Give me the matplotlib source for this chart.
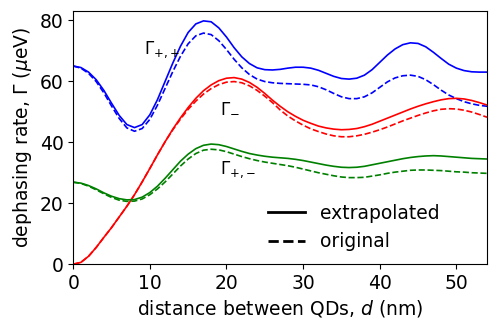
import numpy as np
import matplotlib
matplotlib.use("Agg")
import matplotlib.pyplot as plt

# distance between QDs (nm)
d = np.arange(0, 55)

# Gamma_{+,+}
gpp_ext = [65.0, 64.5, 63.0, 60.5, 57.0, 52.8, 48.8, 45.8, 44.8, 45.8,
           49.0, 54.0, 60.0, 66.0, 71.5, 76.0, 78.8, 79.8, 79.5, 77.5,
           74.5, 71.0, 68.0, 65.8, 64.4, 63.8, 63.7, 63.9, 64.3, 64.6,
           64.6, 64.3, 63.6, 62.6, 61.6, 60.9, 60.7, 61.0, 62.0, 63.8,
           66.2, 68.6, 70.6, 72.0, 72.6, 72.4, 71.3, 69.5, 67.5, 65.6,
           64.3, 63.5, 63.1, 63.0, 63.0]
gpp_orig = [65.0, 64.3, 62.6, 59.9, 56.2, 51.9, 47.8, 44.7, 43.6, 44.5,
            47.5, 52.2, 57.7, 63.2, 68.2, 72.3, 74.9, 75.8, 75.3, 73.3,
            70.4, 67.2, 64.4, 62.2, 60.7, 59.9, 59.5, 59.3, 59.2, 59.1,
            59.0, 58.8, 58.2, 57.2, 56.0, 54.9, 54.3, 54.3, 54.9, 56.2,
            58.0, 59.8, 61.1, 61.8, 62.0, 61.6, 60.5, 58.9, 57.1, 55.5,
            54.3, 53.3, 52.6, 52.1, 51.8]

# Gamma_-
gm_ext = [0.0, 0.6, 2.6, 5.5, 8.8, 12.0, 15.5, 19.0, 22.8, 27.0,
          31.4, 35.9, 40.2, 44.3, 48.0, 51.4, 54.4, 56.9, 58.8, 60.2,
          61.0, 61.2, 60.7, 59.6, 58.0, 56.0, 53.8, 51.8, 50.0, 48.5,
          47.2, 46.2, 45.3, 44.7, 44.3, 44.1, 44.2, 44.5, 45.1, 45.9,
          46.9, 47.9, 48.9, 49.9, 50.9, 51.8, 52.6, 53.3, 53.9, 54.3,
          54.4, 54.2, 53.7, 53.0, 52.2]
gm_orig = [0.0, 0.6, 2.6, 5.5, 8.8, 12.0, 15.5, 19.0, 22.8, 27.0,
           31.4, 35.9, 40.2, 44.1, 47.6, 50.8, 53.5, 55.8, 57.6, 58.9,
           59.7, 59.9, 59.5, 58.5, 57.0, 55.1, 53.0, 50.6, 48.6, 47.0,
           45.6, 44.4, 43.5, 42.7, 42.1, 41.8, 41.8, 42.1, 42.6, 43.3,
           44.1, 45.0, 46.0, 47.0, 47.9, 48.8, 49.6, 50.3, 50.8, 51.0,
           50.9, 50.5, 49.9, 49.1, 48.2]

# Gamma_{+,-}
gpm_ext = [26.9, 26.6, 25.8, 24.7, 23.4, 22.3, 21.5, 21.1, 21.2, 22.0,
           23.5, 25.6, 28.2, 31.0, 33.8, 36.1, 37.9, 39.0, 39.4, 39.2,
           38.6, 37.8, 37.0, 36.3, 35.8, 35.4, 35.1, 34.9, 34.7, 34.4,
           34.0, 33.5, 33.0, 32.5, 32.1, 31.8, 31.7, 31.8, 32.1, 32.6,
           33.1, 33.6, 34.1, 34.6, 35.0, 35.3, 35.5, 35.6, 35.5, 35.3,
           35.1, 34.9, 34.7, 34.6, 34.5]
gpm_orig = [26.9, 26.5, 25.6, 24.4, 23.1, 21.9, 21.0, 20.6, 20.7, 21.4,
            22.8, 24.7, 27.0, 29.6, 32.2, 34.5, 36.3, 37.4, 37.7, 37.5,
            36.9, 36.1, 35.3, 34.6, 34.0, 33.5, 33.1, 32.7, 32.3, 31.8,
            31.2, 30.6, 30.0, 29.5, 29.0, 28.6, 28.4, 28.4, 28.5, 28.9,
            29.3, 29.8, 30.2, 30.5, 30.8, 30.9, 30.9, 30.8, 30.7, 30.5,
            30.3, 30.2, 30.0, 29.9, 29.8]

plt.rcParams['font.size'] = 13.5

fig = plt.figure(figsize=(4.98, 3.27), dpi=100)
ax = fig.add_axes([0.147, 0.192, 0.831, 0.774])

lw = 1.2
ax.plot(d, gpp_ext, color='b', lw=lw)
ax.plot(d, gpp_orig, color='b', lw=lw, ls='--')
ax.plot(d, gm_ext, color='r', lw=lw)
ax.plot(d, gm_orig, color='r', lw=lw, ls='--')
ax.plot(d, gpm_ext, color='g', lw=lw)
ax.plot(d, gpm_orig, color='g', lw=lw, ls='--')

# legend with black proxy lines
ax.plot([], [], color='k', lw=2, label='extrapolated')
ax.plot([], [], color='k', lw=2, ls='--', label='original')
ax.legend(loc='lower right', bbox_to_anchor=(0.927, -0.016), frameon=False)

ax.text(9.3, 70.5, r'$\Gamma_{+{,}+}$', fontsize=12, va='center')
ax.text(19.2, 51.5, r'$\Gamma_{-}$', fontsize=12, va='center')
ax.text(19.2, 31.0, r'$\Gamma_{+{,}-}$', fontsize=12, va='center')

ax.set_xlim(0, 54)
ax.set_ylim(0, 83)
ax.set_xticks([0, 10, 20, 30, 40, 50])
ax.set_yticks([0, 20, 40, 60, 80])
ax.set_xlabel(r'distance between QDs, $d$ (nm)')
ax.set_ylabel(r'dephasing rate, $\Gamma$ ($\mu$eV)')

fig.savefig('out.png', dpi=100)
